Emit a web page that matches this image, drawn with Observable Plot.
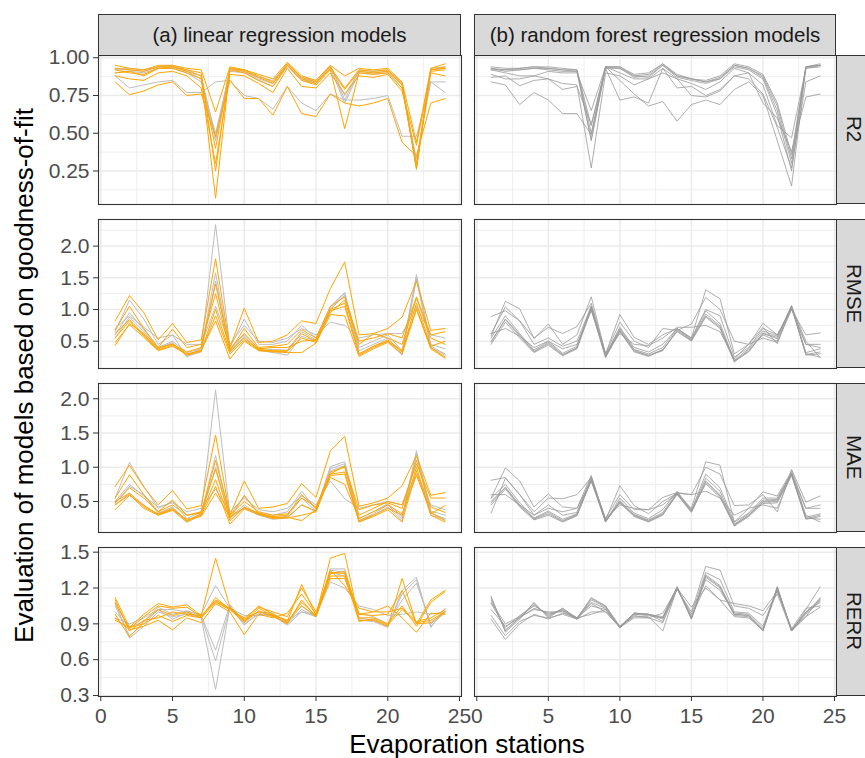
<!DOCTYPE html>
<html><head><meta charset="utf-8">
<script src="https://cdn.jsdelivr.net/npm/d3@7"></script>
<script src="https://cdn.jsdelivr.net/npm/@observablehq/plot@0.6"></script>
<style>
body{margin:0;background:#fff;font-family:"Liberation Sans",Arial,sans-serif;}
#chart{position:relative;width:865px;height:758px;overflow:hidden;background:#fff;}
.panel{position:absolute;}
.panel svg{overflow:visible;}
.strip{position:absolute;background:#D9D9D9;border:1.1px solid #333;box-sizing:border-box;display:flex;align-items:center;justify-content:center;color:#1A1A1A;font-size:20.5px;white-space:nowrap;}
.strip.side{border-right:none;padding-left:5px;}
.strip span.rot{writing-mode:vertical-rl;line-height:1;}
#titles{position:absolute;left:0;top:0;}
</style></head>
<body><div id="chart"></div>
<script>
const stations = [1,2,3,4,5,6,7,8,9,10,11,12,13,14,15,16,17,18,19,20,21,22,23,24];
const metrics = ["R2","RMSE","MAE","RERR"];
const columnTitles = ["(a) linear regression models","(b) random forest regression models"];
const xTitle = "Evaporation stations";
const yTitle = "Evaluation of models based on goodness-of-fit";
const xTicks = [0,5,10,15,20,25];
const xMinor = [2.5,7.5,12.5,17.5,22.5];
const yTicksR2 = [0.25,0.5,0.75,1.0];
const yTicksRMSE = [0.5,1.0,1.5,2.0];
const yTicksMAE = [0.5,1.0,1.5,2.0];
const yTicksRERR = [0.3,0.6,0.9,1.2,1.5];
const yMinorR2 = [0.125,0.375,0.625,0.875];
const yMinorRMSE = [0.25,0.75,1.25,1.75,2.25];
const yMinorMAE = [0.25,0.75,1.25,1.75];
const yMinorRERR = [0.45,0.75,1.05,1.35];

// ---- R2 ----
const lmOrangeR2 = [
 [.95,.93,.92,.95,.95,.93,.92,.64,.94,.92,.89,.86,.97,.88,.85,.95,.88,.93,.92,.93,.84,.44,.93,.96],
 [.93,.92,.91,.94,.94,.92,.90,.25,.93,.92,.88,.84,.96,.87,.84,.94,.80,.92,.91,.92,.83,.27,.92,.94],
 [.92,.90,.89,.93,.94,.91,.88,.07,.93,.91,.87,.83,.95,.86,.83,.93,.79,.91,.90,.91,.82,.26,.92,.93],
 [.90,.91,.88,.93,.93,.90,.86,.40,.92,.90,.85,.81,.95,.85,.82,.92,.53,.90,.89,.90,.80,.29,.91,.92],
 [.88,.86,.85,.90,.91,.88,.80,.30,.89,.88,.83,.77,.93,.81,.80,.90,.76,.88,.87,.89,.78,.42,.90,.88],
 [.84,.755,.78,.82,.84,.75,.76,.48,.85,.73,.73,.62,.81,.63,.61,.76,.70,.68,.70,.73,.44,.35,.70,.73]
];
const lmGreyR2 = [
 [.93,.93,.92,.94,.95,.92,.88,.47,.93,.92,.87,.85,.96,.87,.85,.95,.72,.92,.91,.92,.83,.28,.93,.94],
 [.92,.92,.91,.94,.94,.91,.86,.45,.92,.91,.86,.83,.95,.86,.84,.94,.75,.91,.90,.91,.82,.30,.92,.93],
 [.90,.91,.90,.93,.93,.90,.84,.50,.91,.90,.85,.81,.94,.85,.83,.93,.70,.90,.89,.90,.80,.33,.84,.84],
 [.88,.80,.82,.84,.85,.77,.77,.84,.85,.75,.73,.66,.81,.70,.65,.76,.72,.72,.73,.75,.48,.48,.84,.77]
];
const rfR2 = [
 [.94,.93,.93,.94,.94,.93,.92,.55,.94,.94,.89,.90,.96,.89,.86,.85,.88,.96,.94,.89,.70,.36,.94,.96],
 [.93,.92,.93,.94,.93,.92,.92,.50,.94,.94,.88,.89,.96,.88,.86,.84,.87,.95,.93,.88,.68,.33,.94,.95],
 [.92,.92,.92,.93,.92,.91,.91,.46,.93,.93,.87,.88,.95,.87,.85,.83,.86,.95,.93,.87,.65,.30,.94,.95],
 [.93,.91,.92,.93,.93,.92,.91,.45,.94,.93,.88,.87,.95,.88,.86,.84,.86,.94,.92,.86,.62,.25,.94,.95],
 [.92,.90,.88,.88,.91,.90,.90,.65,.94,.90,.86,.86,.93,.86,.83,.79,.84,.93,.90,.82,.55,.47,.93,.94],
 [.87,.88,.815,.85,.86,.79,.81,.56,.93,.72,.74,.70,.93,.80,.81,.75,.79,.88,.86,.76,.54,.27,.84,.88],
 [.84,.82,.69,.77,.72,.63,.63,.49,.94,.85,.76,.68,.71,.58,.69,.72,.69,.79,.84,.75,.45,.15,.93,.95],
 [.89,.86,.86,.88,.86,.83,.82,.27,.90,.88,.82,.86,.90,.86,.75,.74,.78,.88,.90,.70,.60,.38,.74,.76]
];
// ---- RMSE ----
const lmOrangeRMSE = [
 [.82,1.22,.95,.52,.78,.48,.52,1.80,.40,1.02,.48,.50,.60,.82,.78,1.33,1.75,.60,.62,.70,.88,1.45,.67,.70],
 [.68,1.05,.70,.40,.69,.40,.45,1.25,.35,.70,.40,.42,.45,.68,.55,1.05,1.20,.50,.55,.62,.55,1.20,.60,.65],
 [.62,.84,.60,.38,.46,.30,.35,1.00,.33,.55,.37,.35,.35,.62,.50,1.00,1.10,.30,.42,.52,.35,1.10,.42,.50],
 [.55,.82,.58,.36,.44,.28,.34,.90,.30,.52,.36,.34,.34,.55,.48,.98,1.05,.28,.40,.50,.33,1.02,.40,.25],
 [.48,.76,.56,.35,.42,.29,.36,.82,.22,.50,.35,.33,.32,.32,.47,.92,.90,.26,.38,.48,.30,1.00,.38,.23],
 [.43,.78,.62,.40,.45,.33,.40,1.40,.38,.62,.38,.40,.40,.50,.52,.95,1.15,.45,.62,.55,.45,1.18,.55,.45]
];
const lmGreyRMSE = [
 [.65,1.15,.85,.45,.60,.25,.40,2.34,.40,.85,.45,.45,.50,.75,.55,1.05,1.27,.40,.50,.60,.35,1.55,.45,.38],
 [.60,.95,.68,.40,.50,.32,.38,1.58,.36,.60,.38,.37,.36,.65,.52,1.02,1.25,.35,.45,.55,.30,1.50,.42,.30],
 [.55,.88,.65,.38,.48,.26,.33,1.45,.34,.57,.36,.32,.28,.58,.50,1.00,1.22,.30,.42,.50,.28,1.48,.40,.28],
 [.70,.90,.72,.55,.60,.45,.45,1.05,.45,.75,.50,.48,.55,.70,.60,.80,.75,.55,.60,.62,.62,1.05,.60,.55]
];
const rfRMSE = [
 [.48,.85,.60,.34,.46,.28,.40,1.04,.26,.68,.36,.27,.35,.68,.52,.93,.74,.18,.33,.63,.56,1.06,.29,.33],
 [.50,.84,.58,.33,.48,.29,.39,1.02,.25,.66,.34,.28,.36,.66,.51,.90,.72,.19,.34,.62,.54,1.04,.28,.30],
 [.45,.80,.55,.32,.44,.27,.38,1.00,.24,.65,.33,.26,.37,.65,.50,.88,.70,.17,.36,.60,.50,1.03,.30,.25],
 [.55,.90,.62,.36,.50,.31,.42,1.06,.27,.70,.37,.30,.40,.70,.53,.98,.78,.20,.38,.66,.58,1.06,.32,.38],
 [.62,1.04,.82,.45,.55,.42,.50,1.05,.28,.72,.40,.33,.45,.70,.55,1.00,.90,.25,.40,.70,.60,1.02,.45,.45],
 [.58,1.13,1.01,.54,.77,.45,.60,1.20,.30,.92,.56,.45,.60,.70,.55,1.31,1.17,.30,.45,.72,.46,1.05,.50,.24],
 [.89,.98,.82,.55,.72,.62,.73,1.10,.30,.80,.50,.40,.70,.67,.77,1.19,1.00,.50,.45,.78,.60,1.00,.60,.63],
 [.62,.70,.58,.40,.50,.38,.45,.98,.30,.62,.45,.43,.55,.72,.72,.75,.65,.22,.45,.55,.48,1.00,.45,.40]
];
// ---- MAE ----
const lmOrangeMAE = [
 [.72,1.03,.71,.45,.66,.39,.44,1.47,.30,.80,.40,.42,.47,.76,.56,1.24,1.45,.43,.48,.55,.73,1.17,.59,.63],
 [.55,.89,.60,.35,.52,.30,.35,.97,.25,.59,.32,.28,.30,.60,.40,.93,1.00,.30,.40,.50,.45,1.05,.55,.55],
 [.50,.62,.42,.32,.40,.22,.32,.82,.22,.42,.32,.26,.27,.45,.36,.90,.93,.22,.30,.40,.30,1.00,.32,.44],
 [.45,.60,.40,.30,.37,.20,.30,.72,.17,.39,.31,.25,.26,.30,.35,.88,.90,.20,.28,.38,.20,.95,.30,.20],
 [.38,.59,.44,.31,.38,.24,.28,.62,.28,.41,.33,.27,.27,.22,.38,.85,.75,.25,.35,.45,.32,.88,.34,.22],
 [.48,.70,.55,.35,.45,.30,.33,1.10,.30,.50,.35,.30,.32,.55,.42,.90,1.02,.38,.45,.48,.40,1.10,.42,.34]
];
const lmGreyMAE = [
 [.55,1.07,.72,.40,.50,.25,.35,2.13,.30,.58,.33,.30,.35,.65,.38,1.01,1.08,.25,.35,.47,.28,1.24,.36,.30],
 [.47,.72,.60,.33,.42,.22,.32,1.17,.27,.45,.31,.26,.28,.55,.36,.98,1.05,.22,.32,.45,.25,1.20,.33,.25],
 [.45,.62,.45,.30,.40,.20,.30,1.00,.26,.40,.30,.24,.26,.45,.35,.95,1.02,.20,.30,.42,.22,1.18,.30,.24],
 [.50,.75,.58,.42,.48,.35,.40,.68,.35,.55,.38,.35,.40,.58,.45,.80,.54,.40,.45,.50,.45,.90,.45,.38]
];
const rfMAE = [
 [.50,.71,.45,.24,.32,.21,.30,.81,.21,.50,.30,.22,.32,.61,.35,.80,.60,.15,.30,.50,.52,.90,.25,.30],
 [.48,.70,.44,.25,.34,.22,.31,.80,.20,.49,.29,.21,.31,.60,.34,.78,.58,.16,.29,.49,.50,.89,.24,.28],
 [.45,.68,.42,.23,.30,.20,.29,.82,.21,.48,.28,.20,.30,.62,.36,.76,.56,.14,.28,.47,.48,.88,.26,.24],
 [.55,.75,.48,.26,.36,.24,.32,.84,.22,.51,.31,.23,.34,.63,.37,.84,.65,.17,.32,.52,.53,.91,.27,.32],
 [.33,.84,.60,.30,.45,.30,.34,.86,.20,.55,.33,.25,.38,.65,.37,.90,.70,.20,.33,.55,.55,.92,.30,.20],
 [.55,.99,.80,.42,.61,.42,.40,.88,.23,.73,.44,.32,.50,.62,.40,1.08,1.03,.20,.40,.64,.58,.94,.40,.40],
 [.81,.85,.60,.35,.55,.54,.60,.85,.25,.60,.38,.38,.56,.63,.60,1.00,.90,.44,.45,.60,.35,.97,.49,.58],
 [.60,.60,.45,.30,.40,.35,.40,.80,.25,.45,.40,.38,.45,.62,.60,.65,.55,.30,.40,.45,.40,.90,.40,.45]
];
// ---- RERR ----
const lmOrangeRERR = [
 [1.12,.87,.98,1.07,1.04,1.06,.97,1.45,1.04,.93,1.05,.98,.92,1.23,.97,1.45,1.49,.93,.93,.88,1.28,.90,1.10,1.18],
 [1.07,.86,.96,1.05,1.03,1.04,.96,1.10,1.03,.92,1.03,.97,.90,1.10,.96,1.33,1.32,.95,.95,.90,1.05,.88,1.08,1.17],
 [.98,.79,.92,1.02,.97,1.00,.95,1.08,1.02,.91,1.01,.96,.91,1.08,.97,1.30,1.30,.92,.94,.89,1.02,.91,.93,1.00],
 [.95,.85,.88,.93,.85,.95,.91,1.07,1.00,.81,.98,.95,.99,1.15,.98,1.35,1.22,1.03,1.00,1.05,.95,.83,.99,.98],
 [1.10,.84,.93,.95,1.00,.98,.97,1.09,1.02,.94,1.00,.97,.93,1.05,.96,1.28,1.28,.98,.97,.98,1.18,.90,.91,1.00],
 [.93,.87,.90,.97,.92,.97,.95,1.12,1.02,.95,1.04,1.00,.96,1.20,1.00,1.32,1.34,.98,1.00,1.00,1.03,.92,.95,1.02]
];
const lmGreyRERR = [
 [1.08,.78,.88,1.00,.96,.98,.95,.35,1.05,.90,.98,.97,.89,1.00,.96,1.36,1.36,.93,.92,.87,1.18,1.29,.87,1.03],
 [1.05,.80,.90,1.02,.94,.99,.96,.59,1.04,.89,.99,.96,.90,1.02,.96,1.35,1.33,.95,.93,.88,1.15,1.27,.88,1.01],
 [1.00,.87,.92,1.04,.98,1.01,.97,.68,1.06,.92,1.00,.99,.91,1.05,.97,1.33,1.30,.99,.96,.90,1.10,1.24,.90,.99],
 [.95,.90,.95,1.02,1.02,1.00,.98,1.22,1.03,.97,.97,.98,.93,1.00,.98,1.25,1.20,1.05,1.02,.97,.98,1.00,.98,1.00]
];
const rfRERR = [
 [1.12,.84,.96,1.07,.96,1.03,.94,1.12,1.05,.87,.99,.98,.96,1.21,.94,1.30,1.21,.98,.97,.84,1.21,.84,1.00,1.11],
 [1.10,.85,.95,1.06,.97,1.02,.94,1.10,1.04,.87,.98,.97,.95,1.20,.94,1.29,1.20,.97,.96,.85,1.20,.85,.99,1.10],
 [1.13,.83,.94,1.08,.95,1.03,.95,1.11,1.05,.88,.99,.98,.94,1.21,.95,1.31,1.22,.98,.97,.84,1.21,.84,.98,1.09],
 [1.07,.87,.97,1.05,.98,1.01,.95,1.08,1.03,.87,.98,.98,.92,1.20,.95,1.27,1.18,.99,.98,.86,1.19,.85,1.00,1.08],
 [.97,.80,.92,.97,.95,.98,.94,1.00,1.00,.88,.96,.96,.84,1.20,.96,1.22,1.10,.96,.95,.85,1.18,.85,.96,1.04],
 [.94,.77,.90,.98,.94,.99,.95,.98,1.02,.87,.97,.95,.91,1.19,1.00,1.38,1.35,1.05,1.03,.97,1.15,.84,1.02,1.21],
 [1.08,.90,.96,1.02,1.00,1.00,.94,1.07,1.00,.87,.95,.95,.99,1.20,1.04,1.20,1.10,1.07,1.05,1.01,1.17,.86,1.03,1.05],
 [1.02,.88,.95,1.03,.99,1.01,.95,1.05,1.02,.87,.99,.98,.95,1.19,.98,1.33,1.27,1.00,.99,.88,1.20,.84,.96,1.12]
];

// ---- assembly ----
const panelData = {
  R2:   {lmOrange: lmOrangeR2,   lmGrey: lmGreyR2,   rf: rfR2,   ticks: yTicksR2,   minor: yMinorR2,   domain: [0.028, 1.015], fmt: ".2f"},
  RMSE: {lmOrange: lmOrangeRMSE, lmGrey: lmGreyRMSE, rf: rfRMSE, ticks: yTicksRMSE, minor: yMinorRMSE, domain: [0.069, 2.42],  fmt: ".1f"},
  MAE:  {lmOrange: lmOrangeMAE,  lmGrey: lmGreyMAE,  rf: rfMAE,  ticks: yTicksMAE,  minor: yMinorMAE,  domain: [0.047, 2.223], fmt: ".1f"},
  RERR: {lmOrange: lmOrangeRERR, lmGrey: lmGreyRERR, rf: rfRERR, ticks: yTicksRERR, minor: yMinorRERR, domain: [0.292, 1.539], fmt: ".1f"}
};
const toRows = (list, tag) => list.flatMap((vals, i) => vals.map((v, j) => ({x: stations[j], y: v, id: tag + i})));

const chart = document.getElementById("chart");
const colLeft = [98, 474], colWidth = [363, 362];
const rowTop = [55, 219, 383, 547], rowH = 149;

function makePanel(col, row) {
  const m = metrics[row];
  const d = panelData[m];
  const isLeft = col === 0, isBottom = row === 3;
  const mL = isLeft ? 98 : 2, mR = 2, mT = 2, mB = isBottom ? 44 : 2;
  const marks = [
    Plot.ruleY(d.minor, {stroke: "#EBEBEB", strokeWidth: 0.8}),
    Plot.ruleX(xMinor, {stroke: "#EBEBEB", strokeWidth: 0.8}),
    Plot.ruleY(d.ticks, {stroke: "#EBEBEB", strokeWidth: 1.5}),
    Plot.ruleX(xTicks, {stroke: "#EBEBEB", strokeWidth: 1.5})
  ];
  if (isLeft) {
    marks.push(Plot.line(toRows(d.lmGrey, "g"), {x: "x", y: "y", z: "id", stroke: "#BDBDBD", strokeWidth: 1}));
    marks.push(Plot.line(toRows(d.lmOrange, "o"), {x: "x", y: "y", z: "id", stroke: "#FFA500", strokeWidth: 1}));
  } else {
    marks.push(Plot.line(toRows(d.rf, "r"), {x: "x", y: "y", z: "id", stroke: "#9A9A9A", strokeOpacity: 0.8, strokeWidth: 1}));
  }
  marks.push(Plot.frame({stroke: "#333333", strokeWidth: 1.1}));
  if (isLeft) marks.push(Plot.axisY({ticks: d.ticks, tickSize: 5, tickPadding: 4, tickFormat: d3.format(d.fmt), label: null, stroke: "#333333", fill: "#4D4D4D"}));
  if (isBottom) marks.push(Plot.axisX({ticks: xTicks, tickSize: 5, tickPadding: 7, tickFormat: d3.format("d"), label: null, stroke: "#333333", fill: "#4D4D4D"}));
  const svg = Plot.plot({
    width: mL + colWidth[col] + mR,
    height: mT + rowH + mB,
    marginLeft: mL, marginRight: mR, marginTop: mT, marginBottom: mB,
    x: {domain: [-0.16, 25.14], label: null, ...(isBottom ? {} : {axis: null})},
    y: {domain: d.domain, label: null, ...(isLeft ? {} : {axis: null})},
    style: {fontFamily: "'Liberation Sans', Arial, sans-serif", fontSize: "21px", color: "#4D4D4D", background: "transparent", overflow: "visible"},
    marks
  });
  const wrap = document.createElement("div");
  wrap.className = "panel";
  wrap.style.left = (colLeft[col] - mL) + "px";
  wrap.style.top = (rowTop[row] - mT) + "px";
  wrap.appendChild(svg);
  chart.appendChild(wrap);
}
for (let c = 0; c < 2; c++) for (let r = 0; r < 4; r++) makePanel(c, r);

// strips
for (let c = 0; c < 2; c++) {
  const s = document.createElement("div");
  s.className = "strip";
  s.style.left = colLeft[c] + "px"; s.style.top = "14px";
  s.style.width = colWidth[c] + "px"; s.style.height = "41.5px";
  s.textContent = columnTitles[c];
  chart.appendChild(s);
}
for (let r = 0; r < 4; r++) {
  const s = document.createElement("div");
  s.className = "strip side";
  s.style.left = "836px"; s.style.top = rowTop[r] + "px";
  s.style.width = "29px"; s.style.height = rowH + "px";
  const sp = document.createElement("span");
  sp.className = "rot"; sp.textContent = metrics[r];
  s.appendChild(sp);
  chart.appendChild(s);
}

// titles
const ns = "http://www.w3.org/2000/svg";
const tsvg = document.createElementNS(ns, "svg");
tsvg.setAttribute("id", "titles");
tsvg.setAttribute("width", 865); tsvg.setAttribute("height", 758);
tsvg.style.pointerEvents = "none";
const xt = document.createElementNS(ns, "text");
xt.setAttribute("x", 467); xt.setAttribute("y", 753);
xt.setAttribute("text-anchor", "middle");
xt.setAttribute("font-family", "'Liberation Sans', Arial, sans-serif");
xt.setAttribute("font-size", 26); xt.setAttribute("fill", "#000");
xt.textContent = xTitle;
tsvg.appendChild(xt);
const yt = document.createElementNS(ns, "text");
yt.setAttribute("transform", "translate(33,375.5) rotate(-90)");
yt.setAttribute("text-anchor", "middle");
yt.setAttribute("font-family", "'Liberation Sans', Arial, sans-serif");
yt.setAttribute("font-size", 26); yt.setAttribute("fill", "#000");
yt.textContent = yTitle;
tsvg.appendChild(yt);
chart.appendChild(tsvg);
</script>
</body></html>
